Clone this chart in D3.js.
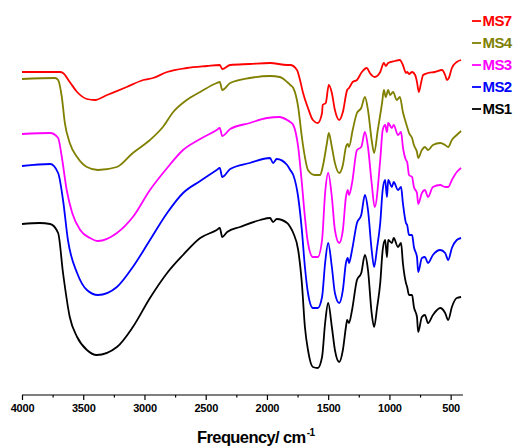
<!DOCTYPE html>
<html>
<head>
<meta charset="utf-8">
<script src="https://cdn.jsdelivr.net/npm/d3@7"></script>
<style>
  html, body { margin: 0; padding: 0; background: #fff; }
  svg { display: block; }
</style>
</head>
<body>
<svg id="chart" width="515" height="446"></svg>
<script>
// ---- Data (wavenumber cm-1, transmittance a.u. with vertical offsets as in the figure) ----
const seriesNames = ["MS7", "MS4", "MS3", "MS2", "MS1"];
const seriesColors = ["#ff0000", "#808000", "#ff00ff", "#0000ff", "#000000"];

const ms7 = [[4000,323],[3690,323],[3665,322],[3610,313],[3550,303],[3470,296],[3405,295],[3305,300],[3145,308],[3010,315],[2930,317],[2815,323],[2655,327],[2490,329],[2385,330],[2365,326],[2300,330],[2140,331],[1975,332],[1835,330],[1810,330],[1755,325],[1730,315],[1705,302],[1665,287],[1625,275],[1585,272],[1550,282],[1545,290],[1520,292],[1495,310],[1470,302],[1445,285],[1410,275],[1380,283],[1345,305],[1330,307],[1300,313],[1265,315],[1225,323],[1185,327],[1160,322],[1120,318],[1075,323],[1045,332],[1030,329],[1010,332],[955,334],[915,335],[890,330],[865,322],[855,323],[840,321],[815,323],[790,320],[775,313],[760,303],[740,313],[725,320],[685,322],[630,323],[570,325],[545,320],[530,315],[515,317],[490,327],[450,333],[415,335]];

const ms4 = [[4000,316],[3730,317],[3705,315],[3675,298],[3650,272],[3610,252],[3550,238],[3470,228],[3380,225],[3225,228],[3095,242],[2955,255],[2850,268],[2765,283],[2655,295],[2545,303],[2410,312],[2385,313],[2365,305],[2300,312],[2140,317],[1975,319],[1895,318],[1835,313],[1810,310],[1785,307],[1745,288],[1715,258],[1690,238],[1665,225],[1610,220],[1565,220],[1545,228],[1510,252],[1495,262],[1470,248],[1445,232],[1410,222],[1380,230],[1355,248],[1340,251],[1330,248],[1300,265],[1265,282],[1230,287],[1200,298],[1175,285],[1145,255],[1125,242],[1095,265],[1060,292],[1045,305],[1030,298],[1010,305],[995,300],[970,303],[940,295],[915,298],[890,283],[855,268],[840,262],[815,257],[800,250],[775,243],[765,237],[735,245],[710,248],[685,245],[645,250],[585,252],[545,250],[520,248],[490,255],[450,260],[415,264]];

const ms3 = [[4000,261],[3770,262],[3705,257],[3675,238],[3635,205],[3590,182],[3525,165],[3445,157],[3380,154],[3225,162],[3095,178],[2955,205],[2815,227],[2685,245],[2545,256],[2410,265],[2385,267],[2365,259],[2300,266],[2140,272],[2000,277],[1895,278],[1835,275],[1810,273],[1785,270],[1745,248],[1715,212],[1690,178],[1665,152],[1625,138],[1585,138],[1550,155],[1525,202],[1500,222],[1470,198],[1445,165],[1410,152],[1380,165],[1355,198],[1340,205],[1330,200],[1305,212],[1265,245],[1230,248],[1200,263],[1175,248],[1145,212],[1120,188],[1075,235],[1055,265],[1035,270],[1020,263],[1010,272],[980,267],[965,270],[930,260],[905,263],[890,248],[865,235],[855,233],[840,220],[815,218],[800,208],[775,202],[765,191],[735,202],[710,205],[685,198],[645,208],[585,210],[545,208],[520,208],[490,215],[450,223],[415,227]];

const ms2 = [[4000,229],[3770,231],[3705,222],[3665,195],[3625,155],[3550,122],[3470,105],[3380,100],[3225,108],[3095,128],[2955,155],[2815,182],[2685,202],[2545,214],[2410,225],[2385,227],[2365,218],[2300,226],[2140,232],[1975,237],[1950,232],[1920,236],[1835,230],[1810,225],[1785,220],[1745,198],[1715,165],[1690,128],[1665,102],[1625,87],[1585,87],[1550,98],[1525,132],[1500,152],[1470,128],[1445,102],[1410,92],[1380,105],[1355,132],[1340,137],[1330,132],[1305,145],[1265,172],[1230,180],[1200,200],[1175,185],[1145,145],[1125,128],[1100,148],[1075,172],[1055,205],[1035,215],[1020,198],[1010,215],[980,208],[965,213],[930,205],[905,208],[890,192],[865,172],[855,170],[840,160],[815,160],[800,148],[775,138],[765,123],[735,137],[710,138],[685,132],[645,140],[585,145],[545,142],[520,135],[490,147],[450,155],[415,157]];

const ms1 = [[4000,171],[3855,172],[3770,171],[3705,162],[3665,122],[3610,78],[3550,58],[3470,45],[3390,40],[3225,48],[3095,68],[2955,97],[2815,122],[2685,140],[2545,157],[2410,165],[2385,167],[2365,158],[2325,163],[2220,168],[2055,175],[1975,177],[1950,173],[1920,176],[1835,172],[1810,168],[1785,162],[1745,145],[1715,112],[1690,68],[1665,45],[1625,28],[1585,27],[1550,38],[1525,72],[1500,92],[1470,68],[1445,45],[1410,33],[1380,45],[1355,68],[1345,75],[1330,72],[1305,85],[1265,115],[1230,122],[1200,140],[1175,125],[1145,82],[1125,68],[1100,88],[1075,112],[1055,145],[1035,155],[1020,138],[1010,155],[980,152],[965,157],[930,148],[905,152],[890,132],[865,112],[855,108],[840,100],[815,100],[800,88],[775,78],[765,63],[735,78],[710,80],[685,72],[645,80],[585,87],[545,82],[520,75],[490,88],[450,97],[415,98]];

const seriesData = [ms7, ms4, ms3, ms2, ms1];

const majorTicks = [4000, 3500, 3000, 2500, 2000, 1500, 1000, 500];
const minorTicks = [3750, 3250, 2750, 2250, 1750, 1250, 750];
const xDomain = [4000, 400];
const yDomain = [0, 395];
const xTitle = "Frequency/ cm";
const xTitleSup = "-1";

// ---- Drawing ----
const svg = d3.select("#chart");
const axisY = 395;
const font = "Arial, 'Liberation Sans', sans-serif";

const x = d3.scaleLinear().domain(xDomain).range([22, 462.9]);
const y = d3.scaleLinear().domain(yDomain).range([axisY, 0]);

const line = d3.line()
  .x(d => x(d[0]))
  .y(d => y(d[1]))
  .curve(d3.curveMonotoneX);

svg.append("g").selectAll("path")
  .data(seriesData)
  .join("path")
  .attr("d", d => line(d))
  .attr("fill", "none")
  .attr("stroke", (d, i) => seriesColors[i])
  .attr("stroke-width", 1.8)
  .attr("stroke-linejoin", "round");

// x axis
const gx = svg.append("g").attr("transform", `translate(0,${axisY})`);
gx.call(d3.axisBottom(x).tickValues(majorTicks).tickSize(5).tickSizeOuter(0).tickPadding(4)
  .tickFormat(d3.format("d")));
gx.select(".domain").attr("stroke", "#000").attr("stroke-width", 1.2)
  .attr("d", `M${x(xDomain[0])},0H${x(xDomain[1])}`);
gx.selectAll(".tick line").attr("stroke", "#000").attr("stroke-width", 1.2);
gx.selectAll(".tick text")
  .attr("fill", "#000")
  .style("font-family", font)
  .style("font-size", "11px")
  .style("font-weight", "bold")
  .style("letter-spacing", "-0.2px")
  .attr("dy", "0.71em");

const gxm = svg.append("g").attr("transform", `translate(0,${axisY})`);
gxm.call(d3.axisBottom(x).tickValues(minorTicks).tickSize(2.5).tickSizeOuter(0).tickFormat(""));
gxm.select(".domain").remove();
gxm.selectAll(".tick line").attr("stroke", "#000").attr("stroke-width", 1.2);

// axis title
const title = svg.append("text")
  .attr("x", 197)
  .attr("y", 443)
  .style("font-family", font)
  .style("font-size", "16.5px")
  .style("font-weight", "bold")
  .style("letter-spacing", "-0.6px")
  .attr("fill", "#000");
title.append("tspan").text(xTitle);
title.append("tspan").attr("dx", "1").attr("dy", "-7").style("font-size", "10px").text(xTitleSup);

// legend
const legendY = [21, 43, 65, 87, 109];
const lg = svg.append("g");
seriesNames.forEach((name, i) => {
  lg.append("line")
    .attr("x1", 472).attr("x2", 481)
    .attr("y1", legendY[i]).attr("y2", legendY[i])
    .attr("stroke", seriesColors[i]).attr("stroke-width", 1.8);
  lg.append("text")
    .attr("x", 482.5).attr("y", legendY[i])
    .attr("dy", "0.36em")
    .style("font-family", font)
    .style("font-size", "15px")
    .style("font-weight", "bold")
    .style("letter-spacing", "-0.6px")
    .attr("fill", seriesColors[i])
    .text(name);
});
</script>
</body>
</html>
